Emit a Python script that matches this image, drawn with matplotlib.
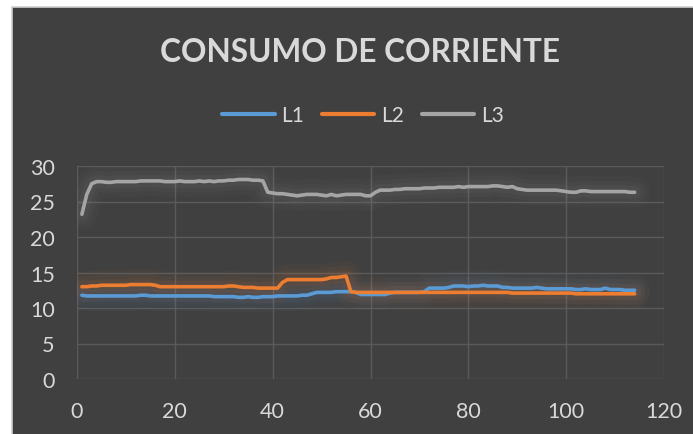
import matplotlib
matplotlib.use("Agg")
import matplotlib.pyplot as plt
from matplotlib.patches import Rectangle

x_vals = list(range(1, 115))

L1 = [11.8, 11.7, 11.7, 11.7, 11.7, 11.7, 11.7, 11.7, 11.7, 11.7,
      11.7, 11.7, 11.8, 11.8, 11.7, 11.7, 11.7, 11.7, 11.7, 11.7,
      11.7, 11.7, 11.7, 11.7, 11.7, 11.7, 11.7, 11.6, 11.6, 11.6,
      11.6, 11.6, 11.5, 11.5, 11.6, 11.5, 11.5, 11.6, 11.6, 11.6,
      11.7, 11.7, 11.7, 11.7, 11.7, 11.8, 11.8, 12.0, 12.2, 12.2,
      12.2, 12.2, 12.3, 12.3, 12.3, 12.3, 12.2, 11.9, 11.9, 11.9,
      11.9, 11.9, 11.9, 12.1, 12.2, 12.2, 12.2, 12.2, 12.2, 12.2,
      12.3, 12.8, 12.8, 12.8, 12.8, 12.9, 13.1, 13.1, 13.1, 13.0,
      13.1, 13.1, 13.2, 13.1, 13.1, 13.1, 12.9, 12.9, 12.8, 12.8,
      12.8, 12.8, 12.8, 12.9, 12.8, 12.7, 12.7, 12.7, 12.7, 12.7,
      12.7, 12.6, 12.6, 12.7, 12.6, 12.6, 12.6, 12.8, 12.6, 12.6,
      12.6, 12.5, 12.5, 12.5]

L2 = [13.0, 13.0, 13.1, 13.1, 13.2, 13.2, 13.2, 13.2, 13.2, 13.2,
      13.3, 13.3, 13.3, 13.3, 13.3, 13.2, 13.0, 13.0, 13.0, 13.0,
      13.0, 13.0, 13.0, 13.0, 13.0, 13.0, 13.0, 13.0, 13.0, 13.0,
      13.1, 13.1, 13.0, 12.9, 12.9, 12.9, 12.8, 12.8, 12.8, 12.8,
      12.8, 13.6, 14.0, 14.0, 14.0, 14.0, 14.0, 14.0, 14.0, 14.0,
      14.1, 14.3, 14.3, 14.4, 14.5, 12.3, 12.2, 12.2, 12.2, 12.2,
      12.2, 12.2, 12.2, 12.2, 12.2, 12.2, 12.2, 12.2, 12.2, 12.2,
      12.2, 12.2, 12.2, 12.2, 12.2, 12.2, 12.2, 12.2, 12.2, 12.2,
      12.2, 12.2, 12.2, 12.2, 12.2, 12.2, 12.2, 12.2, 12.1, 12.1,
      12.1, 12.1, 12.1, 12.1, 12.1, 12.1, 12.1, 12.1, 12.1, 12.1,
      12.1, 12.0, 12.0, 12.0, 12.0, 12.0, 12.0, 12.0, 12.0, 12.0,
      12.0, 12.0, 12.0, 12.0]

L3 = [23.2, 26.0, 27.5, 27.8, 27.8, 27.7, 27.7, 27.8, 27.8, 27.8,
      27.8, 27.8, 27.9, 27.9, 27.9, 27.9, 27.9, 27.8, 27.8, 27.8,
      27.9, 27.8, 27.8, 27.8, 27.9, 27.8, 27.9, 27.8, 27.9, 27.9,
      28.0, 28.0, 28.1, 28.1, 28.1, 28.0, 28.0, 27.9, 26.3, 26.2,
      26.1, 26.1, 26.0, 25.9, 25.8, 25.9, 26.0, 26.0, 26.0, 25.9,
      25.8, 26.0, 25.8, 25.9, 26.0, 26.0, 26.0, 26.0, 25.8, 25.8,
      26.3, 26.6, 26.6, 26.6, 26.7, 26.7, 26.8, 26.8, 26.8, 26.8,
      26.9, 26.9, 26.9, 27.0, 27.0, 27.0, 27.0, 27.1, 27.0, 27.1,
      27.1, 27.1, 27.1, 27.1, 27.2, 27.2, 27.1, 27.0, 27.1, 26.8,
      26.7, 26.6, 26.6, 26.6, 26.6, 26.6, 26.6, 26.6, 26.5, 26.4,
      26.3, 26.3, 26.5, 26.5, 26.4, 26.4, 26.4, 26.4, 26.4, 26.4,
      26.4, 26.4, 26.3, 26.3]

series_names = ["L1", "L2", "L3"]
series_values = [L1, L2, L3]
series_colors = ["#5b9bd5", "#ed7d31", "#a5a5a5"]

x_ticks = [0, 20, 40, 60, 80, 100, 120]
y_ticks = [0, 5, 10, 15, 20, 25, 30]
title = "CONSUMO DE CORRIENTE"

W, H = 693, 435
fig = plt.figure(figsize=(W / 100, H / 100), dpi=100, facecolor="white")

bg = "#404040"
frame = Rectangle((11.5 / W, -0.02), 1.05, 1 - 7.5 / H + 0.02,
                  transform=fig.transFigure, facecolor=bg,
                  edgecolor="#d0d0d0", linewidth=1.2, zorder=-10)
fig.patches.append(frame)

ax = fig.add_axes([77 / W, 1 - 380 / H, (664 - 77) / W, (380 - 167) / H])
ax.set_zorder(1)
ax.patch.set_visible(False)

text_color = "#d9d9d9"
font = "Lato"

for name, vals, col in zip(series_names, series_values, series_colors):
    for lw, a in [(22, 0.04), (15, 0.05), (9, 0.06)]:
        ax.plot(x_vals, vals, color=col, linewidth=lw, alpha=a,
                solid_capstyle="round", solid_joinstyle="round", zorder=2)
    ax.plot(x_vals, vals, color=col, linewidth=2.6, label=name,
            solid_capstyle="round", solid_joinstyle="round", zorder=3)

ax.set_xlim(0, 120)
ax.set_ylim(0, 30)
ax.set_xticks(x_ticks)
ax.set_yticks(y_ticks)
ax.grid(True, color="#5a5a5a", linewidth=1.0, zorder=1)
ax.set_axisbelow(True)
for s in ax.spines.values():
    s.set_visible(False)
ax.tick_params(length=0, colors=text_color, labelsize=15.5, pad=16)
for lab in ax.get_xticklabels() + ax.get_yticklabels():
    lab.set_fontfamily(font)
    lab.set_color(text_color)

fig.text(360 / W, 1 - 53 / H, title, ha="center", va="center",
         fontsize=22.8, fontweight="bold", color=text_color, family=font)

leg = fig.legend(loc="center", bbox_to_anchor=(363 / W, 1 - 116 / H),
                 ncol=3, frameon=False, handlelength=2.5, handletextpad=0.3,
                 columnspacing=0.9, prop={"family": font, "size": 15})
for t in leg.get_texts():
    t.set_color(text_color)
for h in leg.get_lines():
    h.set_linewidth(3.0)
    h.set_solid_capstyle("round")

fig.savefig("out.png", dpi=100, facecolor="white")
